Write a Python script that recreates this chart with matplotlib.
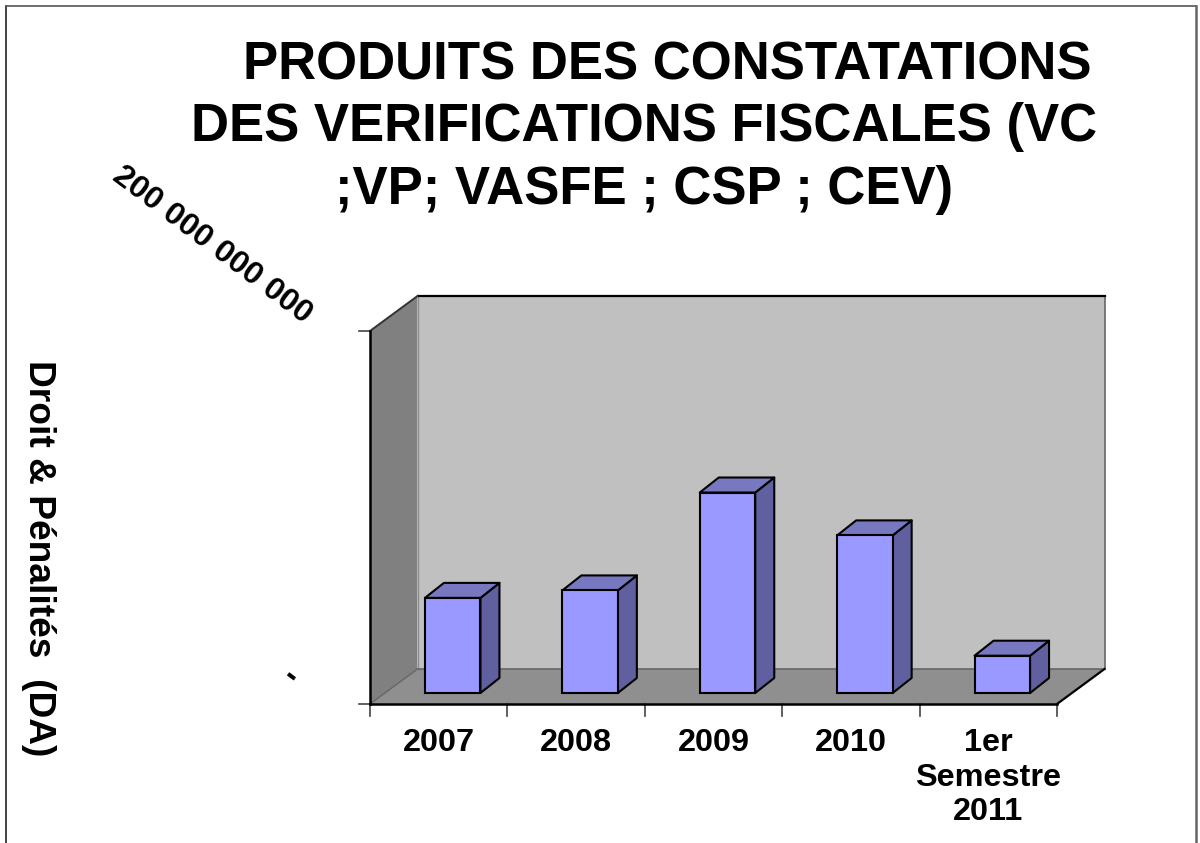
import matplotlib.pyplot as plt
from matplotlib.patches import Polygon

plt.rcParams['font.family'] = ['Liberation Sans', 'DejaVu Sans']

# Values
categories = ['2007', '2008', '2009', '2010', '1er\nSemestre\n2011']
values = [51e9, 55e9, 107.5e9, 84.5e9, 20e9]
ymax = 200e9
title_lines = ['PRODUITS DES CONSTATATIONS', 'DES VERIFICATIONS FISCALES (VC', ';VP; VASFE ; CSP ; CEV)']

W, H = 1200, 843
fig = plt.figure(figsize=(W / 100, H / 100), dpi=100)

# slide frame, open at the bottom
fig.add_artist(plt.Line2D([6 / W, 6 / W], [0, 1 - 6 / H], color='#222222', lw=1.2))
fig.add_artist(plt.Line2D([6 / W, 1196 / W], [1 - 6 / H, 1 - 6 / H], color='#555555', lw=1.2))
fig.add_artist(plt.Line2D([1196 / W, 1196 / W], [0, 1 - 6 / H], color='#666666', lw=1.8))

# front plane of the 3d box is the real axes
left, right, bottom, top = 370, 1057, 704, 331
ax = fig.add_axes([left / W, 1 - bottom / H, (right - left) / W, (bottom - top) / H])
ax.set_xlim(0, len(categories))
ax.set_ylim(0, ymax)
ax.axis('off')

# pixel sizes to data units
px = len(categories) / (right - left)
py = ymax / (bottom - top)
n = len(categories)
dx, dy = 47.5 * px, 35 * py


def poly(pts, fc, ec='none', lw=0, z=1):
    ax.add_patch(Polygon(pts, closed=True, fc=fc, ec=ec, lw=lw, zorder=z, clip_on=False, joinstyle='round'))


# back wall, side wall, floor
poly([(dx, dy), (n + dx, dy), (n + dx, ymax + dy), (dx, ymax + dy)], '#c0c0c0')
poly([(0, 0), (dx, dy), (dx, ymax + dy), (0, ymax)], '#808080')
poly([(0, 0), (n, 0), (n + dx, dy), (dx, dy)], '#8f8f8f')
ax.plot([dx, dx], [dy, ymax + dy], color='#8c8c8c', lw=1, zorder=1.5, clip_on=False)
ax.plot([dx, n + dx, n + dx], [dy, dy, ymax + dy], color='#666666', lw=1.2, zorder=1.5, clip_on=False)
ax.plot([dx, n + dx], [ymax + dy, ymax + dy], color='black', lw=1.6, zorder=2, clip_on=False)
ax.plot([0, dx], [ymax, ymax + dy], color='#333333', lw=1.4, zorder=2, clip_on=False)
ax.plot([0, dx], [0, dy], color='#666666', lw=1, zorder=2, clip_on=False)
ax.plot([n, n + dx], [0, dy], color='black', lw=1.6, zorder=2, clip_on=False)

# axis lines and ticks
ax.plot([0, 0], [0, ymax], color='black', lw=1.8, zorder=3, clip_on=False)
ax.plot([0, n], [0, 0], color='black', lw=1.8, zorder=3, clip_on=False)
for v in [0, ymax]:
    ax.plot([-11 * px, 0], [v, v], color='#444444', lw=1.2, clip_on=False)
for i in range(n + 1):
    ax.plot([i, i], [0, -12 * py], color='#444444', lw=1.2, clip_on=False)

# bars
bar_w = 55.5 * px
bdx, bdy = 19 * px, 15 * py
off_x, off_y = 14 * px, 11 * py
for i, v in enumerate(values):
    x0 = i + 0.5 + off_x - bar_w / 2
    x1 = x0 + bar_w
    y0 = off_y
    y1 = off_y + v
    poly([(x1, y0), (x1 + bdx, y0 + bdy), (x1 + bdx, y1 + bdy), (x1, y1)], '#6060a0', 'black', 1.5, 4)
    poly([(x0, y1), (x1, y1), (x1 + bdx, y1 + bdy), (x0 + bdx, y1 + bdy)], '#7878c0', 'black', 1.5, 4)
    ax.bar(i + 0.5 + off_x, v, bar_w, bottom=off_y, color='#9999ff', edgecolor='black', lw=1.5, zorder=5, clip_on=False)

# category labels
for i, c in enumerate(categories):
    ax.text(i + 0.5, -24 * py, c, ha='center', va='top', fontsize=23.3, fontweight='bold',
            linespacing=1.2, clip_on=False)

# rotated value labels
ax.text(-62 * px, ymax + 13 * py, '200 000 000 000', rotation=-37, rotation_mode='anchor', ha='right', va='center',
        fontsize=23, fontweight='bold', clip_on=False)
ax.text(-80 * px, 27 * py, '-', rotation=-37, ha='center', va='center', fontsize=24, fontweight='bold', clip_on=False)

# titles
for txt, xc, yc in zip(title_lines, [667, 644, 644], [66, 127, 190]):
    fig.text(xc / W, 1 - yc / H, txt, ha='center', va='center', fontsize=38, fontweight='bold')
fig.text(38 / W, 1 - 558 / H, 'Droit & Pénalités  (DA)', rotation=-90, ha='center', va='center',
         fontsize=26.7, fontweight='bold')

fig.savefig('out.png', dpi=100)
